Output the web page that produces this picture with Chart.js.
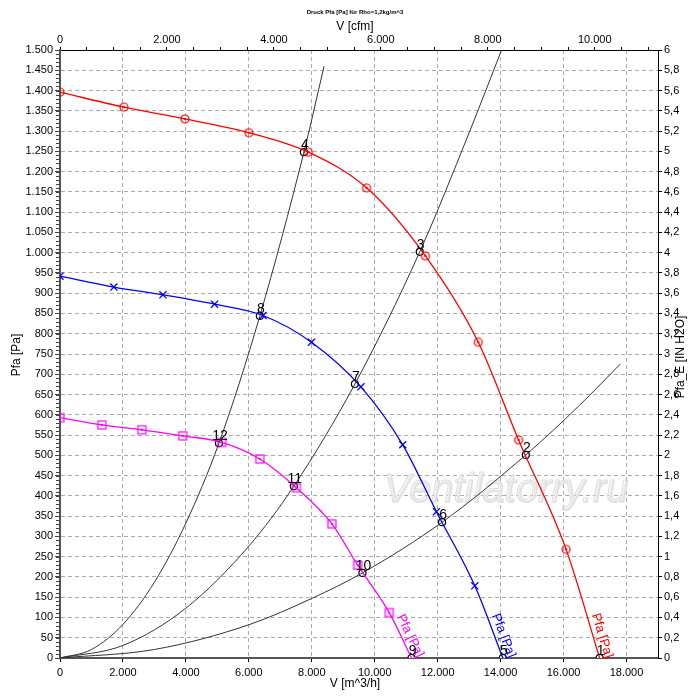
<!DOCTYPE html>
<html>
<head>
<meta charset="utf-8">
<script src="https://cdn.jsdelivr.net/npm/chart.js@4.4.1/dist/chart.umd.min.js"></script>
<style>
html, body { margin: 0; padding: 0; background: #fff; }
#c { display: block; }
</style>
</head>
<body>
<canvas id="c" width="700" height="700"></canvas>
<script>
// fan curves, V in m^3/h, Pfa in Pa
const redV  = [0, 2030, 3970, 6000, 7890, 9740, 11610, 13290, 14570, 16080, 17145];
const redP  = [1396, 1359, 1330, 1296, 1248, 1160, 992, 779, 538, 268, 0];
const blueV = [0, 1710, 3270, 4910, 6450, 7990, 9560, 10890, 11960, 13180, 14070];
const blueP = [942, 915, 896, 873, 845, 779, 669, 526, 361, 178, 0];
const magV  = [0, 1330, 2600, 3900, 5140, 6350, 7510, 8640, 9460, 10460, 11170];
const magP  = [593, 575, 563, 548, 532, 491, 420, 331, 229, 112, 0];

// system curves
const sysAV = [0, 1000, 2000, 3000, 4000, 5050, 6350, 7750, 8390];
const sysAP = [0, 21, 83, 187, 333, 530, 844, 1248, 1460];
const sysBV = [0, 2000, 4000, 6000, 7430, 9370, 11430, 13000, 14030];
const sysBP = [0, 31, 123, 276, 424, 676, 1002, 1296, 1500];
const sysCV = [0, 3000, 6000, 8000, 9610, 12140, 14800, 16500, 17800];
const sysCP = [0, 21, 82, 147, 210, 335, 501, 623, 725];

// operating points
const opLabels = ['1', '2', '3', '4', '5', '6', '7', '8', '9', '10', '11', '12'];
const opV = [17145, 14800, 11430, 7750, 14070, 12140, 9370, 6350, 11170, 9610, 7430, 5050];
const opP = [0, 501, 1002, 1248, 0, 335, 676, 844, 0, 210, 424, 530];

// ticks
const xTicks   = [0, 2000, 4000, 6000, 8000, 10000, 12000, 14000, 16000, 18000];
const cfmTicks = [0, 500, 1000, 1500, 2000, 2500, 3000, 3500, 4000, 4500, 5000, 5500, 6000,
                  6500, 7000, 7500, 8000, 8500, 9000, 9500, 10000, 10500, 11000];
const cfmLabels = [0, 2000, 4000, 6000, 8000, 10000];
const paTicks = [];
for (let v = 0; v <= 1500; v += 50) paTicks.push(v);
const inTicks = [0, 0.2, 0.4, 0.6, 0.8, 1, 1.2, 1.4, 1.6, 1.8, 2, 2.2, 2.4, 2.6, 2.8, 3,
                 3.2, 3.4, 3.6, 3.8, 4, 4.2, 4.4, 4.6, 4.8, 5, 5.2, 5.4, 5.6, 5.8, 6];

const CFM = 1.699; // m^3/h per cfm
const PA_PER_INH2O = 250;

function de(v) {
  return String(Math.round(v)).replace(/\B(?=(\d{3})+(?!\d))/g, '.');
}
function pts(xs, ys) {
  return xs.map((x, i) => ({ x: x, y: ys[i] }));
}
function fixTicks(list) {
  return s => { s.ticks = list.map(v => ({ value: v })); };
}
function mark(size, draw) {
  const c = document.createElement('canvas');
  c.width = size; c.height = size;
  draw(c.getContext('2d'), size / 2);
  return c;
}
const redMark = mark(12, (g, m) => {
  g.strokeStyle = '#ff0000'; g.lineWidth = 1.2;
  g.beginPath(); g.arc(m, m, 4, 0, Math.PI * 2); g.stroke();
  g.fillStyle = '#ff0000'; g.fillRect(m - 1, m - 1, 2, 2);
});
const magMark = mark(12, (g, m) => {
  g.strokeStyle = '#ff00ff'; g.lineWidth = 1.2;
  g.strokeRect(m - 4, m - 4, 8, 8);
  g.fillStyle = '#ff00ff'; g.fillRect(m - 1, m - 1, 2, 2);
});
function radii(arr, r) {
  return arr.map((v, i) => i === arr.length - 1 ? 0 : r);
}

const sysStyle = {
  borderColor: '#333', borderWidth: 1, pointRadius: 0,
  showLine: true, cubicInterpolationMode: 'monotone'
};

const deco = {
  id: 'deco',
  beforeDatasetsDraw(chart) {
    const ctx = chart.ctx;
    ctx.save();
    ctx.font = 'italic 40px "Liberation Sans", Arial, sans-serif';
    ctx.textAlign = 'center';
    ctx.textBaseline = 'alphabetic';
    ctx.fillStyle = '#ebebeb';
    ctx.fillText('Ventilatorry.ru', 507, 503);
    ctx.strokeStyle = '#dcdcdc';
    ctx.lineWidth = 1;
    ctx.strokeText('Ventilatorry.ru', 506, 502);
    ctx.restore();
  },
  afterDraw(chart) {
    const ctx = chart.ctx;
    const a = chart.chartArea;
    const xs = chart.scales.x, ys = chart.scales.y;
    ctx.save();

    // minor ticks on the left axis
    ctx.strokeStyle = '#444';
    ctx.lineWidth = 1;
    for (let v = 0; v <= 1500; v += 10) {
      const y = Math.round(ys.getPixelForValue(v)) + 0.5;
      ctx.beginPath(); ctx.moveTo(a.left - 4, y); ctx.lineTo(a.left, y); ctx.stroke();
    }

    // titles
    ctx.fillStyle = '#000';
    ctx.textAlign = 'center';
    ctx.textBaseline = 'middle';
    ctx.font = 'bold 6px "Liberation Sans", Arial, sans-serif';
    ctx.fillText('Druck Pfa [Pa] für Rho=1,2kg/m^3', 355, 12);
    ctx.font = '12px "Liberation Sans", Arial, sans-serif';
    ctx.fillText('V [cfm]', 355, 27);
    ctx.fillText('V [m^3/h]', 355, 684);
    ctx.save();
    ctx.translate(17, 355); ctx.rotate(-Math.PI / 2);
    ctx.fillText('Pfa [Pa]', 0, 0);
    ctx.restore();
    ctx.save();
    ctx.translate(681, 357); ctx.rotate(-Math.PI / 2);
    ctx.fillText('Pfa_E [IN H2O]', 0, 0);
    ctx.restore();

    // curve names along the falling end of each fan curve
    const named = [[redV, redP, '#ff0000'], [blueV, blueP, '#0000ff'], [magV, magP, '#ff00ff']];
    ctx.font = '13px "Liberation Sans", Arial, sans-serif';
    named.forEach(([V, P, col]) => {
      const n = V.length - 1;
      const x1 = xs.getPixelForValue(V[n - 1]), y1 = ys.getPixelForValue(P[n - 1]);
      const x2 = xs.getPixelForValue(V[n]), y2 = ys.getPixelForValue(P[n]);
      const ang = Math.atan2(y2 - y1, x2 - x1);
      ctx.save();
      ctx.translate(x2 + 2, y2 + 2);
      ctx.rotate(ang);
      ctx.fillStyle = col;
      ctx.textAlign = 'right';
      ctx.textBaseline = 'bottom';
      ctx.fillText('Pfa [Pa]', 0, -1);
      ctx.restore();
    });

    // operating point numbers
    ctx.fillStyle = '#000';
    ctx.font = '14px "Liberation Sans", Arial, sans-serif';
    ctx.textAlign = 'center';
    ctx.textBaseline = 'alphabetic';
    opLabels.forEach((t, i) => {
      const x = xs.getPixelForValue(opV[i]), y = ys.getPixelForValue(opP[i]);
      ctx.fillText(t, x + 1, y - 3);
    });
    ctx.restore();
  }
};

const tickFont = { family: '"Liberation Sans", Arial, sans-serif', size: 11 };

new Chart(document.getElementById('c'), {
  type: 'scatter',
  data: {
    datasets: [
      Object.assign({ data: pts(sysAV, sysAP) }, sysStyle),
      Object.assign({ data: pts(sysBV, sysBP) }, sysStyle),
      Object.assign({ data: pts(sysCV, sysCP) }, sysStyle),
      {
        data: pts(magV, magP), showLine: true, borderColor: '#ff00ff', borderWidth: 1.3,
        cubicInterpolationMode: 'monotone', pointStyle: magMark, pointRadius: radii(magV, 4)
      },
      {
        data: pts(blueV, blueP), showLine: true, borderColor: '#0000ff', borderWidth: 1.3,
        cubicInterpolationMode: 'monotone', pointStyle: 'crossRot', pointRadius: radii(blueV, 5),
        pointBorderColor: '#0000ff', pointBorderWidth: 1.3
      },
      {
        data: pts(redV, redP), showLine: true, borderColor: '#ff0000', borderWidth: 1.3,
        cubicInterpolationMode: 'monotone', pointStyle: redMark, pointRadius: radii(redV, 4)
      },
      {
        data: pts(opV, opP), showLine: false, pointStyle: 'circle', pointRadius: 3.5,
        pointBackgroundColor: '#fff', pointBorderColor: '#000', pointBorderWidth: 1.2
      }
    ]
  },
  options: {
    responsive: false,
    devicePixelRatio: 1,
    animation: false,
    events: [],
    layout: { padding: 0 },
    plugins: { legend: { display: false }, tooltip: { enabled: false } },
    scales: {
      x: {
        type: 'linear', position: 'bottom', min: 0, max: 19000,
        afterBuildTicks: fixTicks(xTicks),
        ticks: {
          autoSkip: false, maxRotation: 0, padding: 4,
          color: '#000', font: tickFont,
          callback: v => de(v)
        },
        grid: { color: '#aaa', tickColor: '#000', tickLength: 4, tickBorderDash: [] },
        border: { color: '#555', width: 2, dash: [4, 3] },
        afterFit(s) { s.height = 42; }
      },
      x2: {
        type: 'linear', position: 'top', min: 0, max: 19000 / CFM,
        afterBuildTicks: fixTicks(cfmTicks),
        ticks: {
          autoSkip: false, maxRotation: 0, padding: 0,
          color: '#000', font: tickFont,
          callback: v => cfmLabels.includes(v) ? de(v) : ''
        },
        grid: { drawOnChartArea: false, tickColor: '#000', tickLength: 3 },
        border: { color: '#000', width: 1 },
        afterFit(s) { s.height = 50; }
      },
      y: {
        type: 'linear', position: 'left', min: 0, max: 1500,
        afterBuildTicks: fixTicks(paTicks),
        ticks: {
          autoSkip: false, padding: 2,
          color: '#000', font: tickFont,
          callback: v => de(v)
        },
        grid: { color: '#aaa', tickColor: '#444', tickLength: 5, tickBorderDash: [] },
        border: { color: '#555', width: 2, dash: [4, 3] },
        afterFit(s) { s.width = 60; }
      },
      y2: {
        type: 'linear', position: 'right', min: 0, max: 1500 / PA_PER_INH2O,
        afterBuildTicks: fixTicks(inTicks),
        ticks: {
          autoSkip: false, padding: 2,
          color: '#000', font: tickFont,
          callback: v => String(v).replace('.', ',')
        },
        grid: { drawOnChartArea: false, tickColor: '#000', tickLength: 4 },
        border: { color: '#000', width: 1 },
        afterFit(s) { s.width = 42; }
      }
    }
  },
  plugins: [deco]
});
</script>
</body>
</html>
